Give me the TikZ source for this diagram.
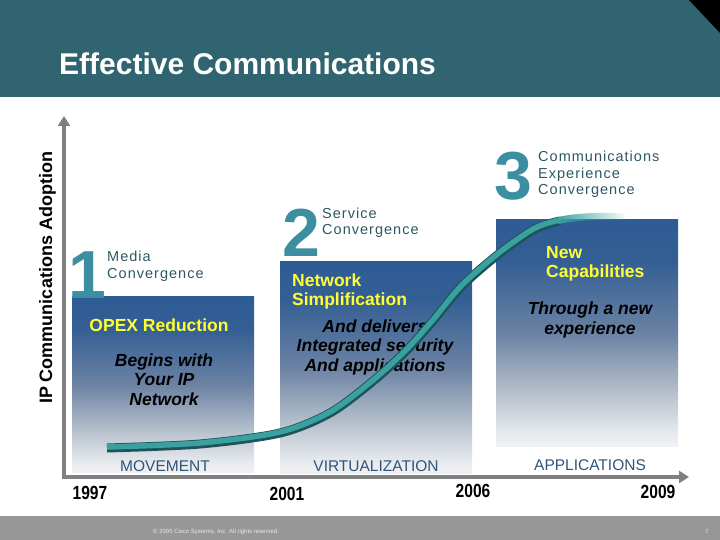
\documentclass[tikz,border=0pt]{standalone}
\usepackage{fontspec}
\setmainfont{Liberation Sans}
\newfontfamily\lblfont[LetterSpace=7]{Liberation Sans}
\newfontfamily\yearfont[FakeStretch=0.82]{Liberation Sans}
\usetikzlibrary{arrows.meta,fadings}
\definecolor{hdr}{RGB}{47,100,112}
\definecolor{numc}{RGB}{59,143,160}
\definecolor{lblc}{RGB}{45,88,100}
\definecolor{yel}{RGB}{255,255,51}
\definecolor{bottomc}{RGB}{48,84,122}
\definecolor{axisc}{RGB}{128,128,128}
\definecolor{footc}{RGB}{151,151,151}
\definecolor{curvec}{RGB}{58,160,160}
\definecolor{curved}{RGB}{28,84,90}
\pgfdeclareverticalshading{boxshade}{100bp}{rgb(0bp)=(0.94,0.945,0.955); rgb(25bp)=(0.94,0.945,0.955); rgb(28bp)=(0.90,0.915,0.93); rgb(37bp)=(0.71,0.75,0.80); rgb(50bp)=(0.42,0.51,0.64); rgb(66bp)=(0.20,0.37,0.58); rgb(75bp)=(0.18,0.36,0.58); rgb(100bp)=(0.18,0.36,0.58)}
\tikzset{
  numeral/.style={font=\fontsize{68}{68}\selectfont\bfseries, text=numc, inner sep=0, anchor=base west},
  phase/.style={font=\lblfont\fontsize{14.5}{16.5}\selectfont, text=lblc, align=left, inner sep=0, anchor=base west},
  yellowtxt/.style={font=\fontsize{17.5}{18.5}\selectfont\bfseries, text=yel, align=left, inner sep=0, anchor=base west},
  blacktxt/.style={font=\fontsize{17.5}{19.3}\selectfont\bfseries\itshape, text=black, align=center, inner sep=0, anchor=base},
  bottomtxt/.style={font=\fontsize{15.5}{16}\selectfont, text=bottomc, inner sep=0, anchor=base},
  yearlbl/.style={font=\yearfont\bfseries\fontsize{19}{19}\selectfont, text=black, inner sep=0, anchor=base},
  axisline/.style={draw=axisc, line width=4pt, -{Triangle[length=10pt,width=12pt]}},
  phasebox/.style={shading=boxshade},
}
\begin{document}
\begin{tikzpicture}[x=1pt,y=-1pt]
\useasboundingbox (0,0) rectangle (720,540);
% header
\fill[hdr] (0,0) rectangle (720,97);
\fill[black] (689,0) -- (720,0) -- (720,33) -- cycle;
\node[anchor=base west, font=\fontsize{30}{30}\selectfont\bfseries, text=white, inner sep=0] (title) at (59,75) {Effective Communications};
% footer
\fill[footc] (0,516) rectangle (720,540);
\node[anchor=base west, font=\fontsize{6}{6}\selectfont, text=white!80!footc, inner sep=0] (copy) at (153,533) {© 2005 Cisco Systems, Inc. All rights reserved.};
\node[anchor=base west, font=\fontsize{6}{6}\selectfont, text=white!80!footc, inner sep=0] (pnum) at (705,533) {7};
% boxes
\shade[phasebox] (72,296) rectangle (254,472);
\shade[phasebox] (280,261) rectangle (472,473);
\shade[phasebox] (496,220) rectangle (678,446);
% axes
\coordinate (origin) at (64,477);
\coordinate (ytip) at (64,116);
\coordinate (xtip) at (689,477);
\draw[axisline] (origin) -- (ytip);
\draw[axisline] ([xshift=-2pt]origin) -- (xtip);
\node[rotate=90, anchor=base, font=\fontsize{18}{18}\selectfont\bfseries, inner sep=0] (ylabel) at (52,278) {IP Communications Adoption};
% numerals and phase names (base = last line)
\node[numeral] (n1) at (68,298) {1};
\node[phase] (p1) at (107,278) {Media\\Convergence};
\node[numeral] (n2) at (282,256) {2};
\node[phase] (p2) at (322,235) {Service\\Convergence};
\node[numeral] (n3) at (494,200) {3};
\node[phase] (p3) at (538,195) {Communications\\Experience\\Convergence};
% box texts
\node[yellowtxt, anchor=base] (y1) at (159,331) {OPEX Reduction};
\node[blacktxt] (b1) at (164,405) {Begins with\\Your IP\\Network};
\node[yellowtxt] (y2) at (292,305) {Network\\Simplification};
\node[blacktxt] (b2) at (375,371) {And delivers\\Integrated security\\And applications};
\node[yellowtxt] (y3) at (546,277) {New\\Capabilities};
\node[blacktxt] (b3) at (590,334) {Through a new\\experience};
% curve
\draw[curved, line width=9pt] plot[smooth, tension=0.5] coordinates {(107,448) (200,444) (280,433) (330,413) (372,382) (405,352) (432,322) (462,286) (500,253) (535,229) (560,221)};
\draw[curvec, line width=5.5pt] plot[smooth, tension=0.5] coordinates {(107,447) (200,443) (280,432) (330,412) (372,381) (405,351) (432,321) (462,285) (500,252) (535,228) (560,220)};
\draw[curvec, line width=7pt, path fading=east] (558,220.5) .. controls (580,216) and (600,216) .. (625,217);
% bottom labels
\node[bottomtxt] (mov) at (165,471) {MOVEMENT};
\node[bottomtxt] (virt) at (376,471) {VIRTUALIZATION};
\node[bottomtxt] (app) at (590,470) {APPLICATIONS};
% years
\node[yearlbl] (y1997) at (90,499) {1997};
\node[yearlbl] (y2001) at (287,500) {2001};
\node[yearlbl] (y2006) at (473,497) {2006};
\node[yearlbl] (y2009) at (658,498) {2009};
\end{tikzpicture}
\end{document}
